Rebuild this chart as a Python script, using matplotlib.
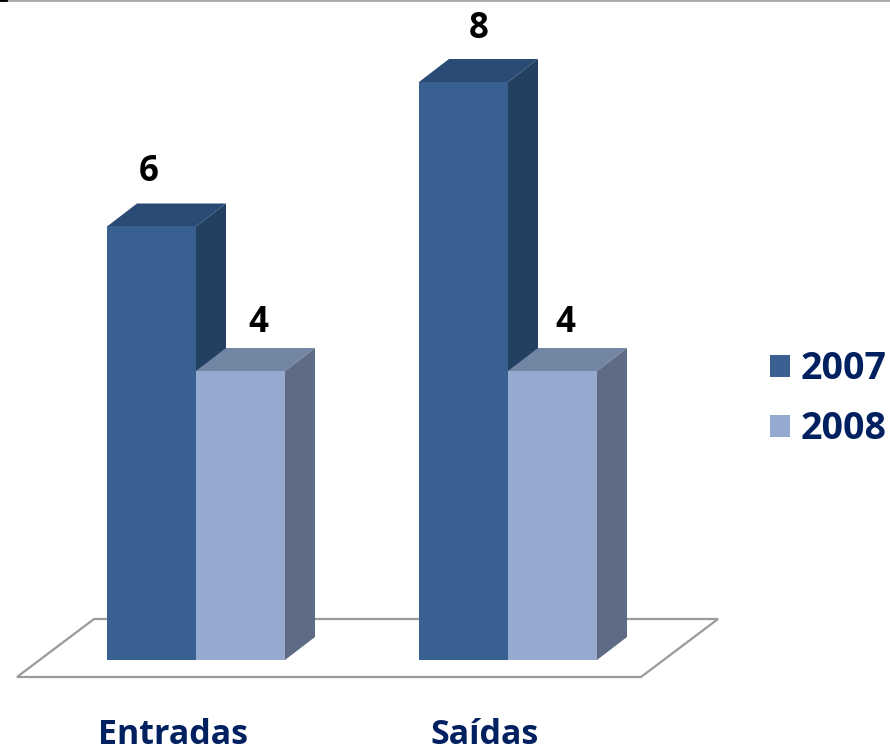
import matplotlib
matplotlib.use('Agg')
import matplotlib.pyplot as plt
from matplotlib.patches import Polygon

plt.rcParams['font.family'] = ['Open Sans', 'DejaVu Sans']

categories = ['Entradas', 'Saídas']
series_names = ['2007', '2008']
values_2007 = [6, 8]
values_2008 = [4, 4]

navy = '#002060'
front = ['#386192', '#95A9D1']
top = ['#2A4B74', '#7285A3']
side = ['#233F61', '#5E6B85']

# one category step is 312 px, one unit of value is 72.25 px
px_x = 1 / 312
px_y = 1 / 72.25
w = 89 * px_x
dx = 30 * px_x
dy = 23 * px_y

# the labels are not placed evenly in the original, (x, y) nudges in px
nudge = [[(-3, 36), (15, 35)], [(18, 30), (13, 30)]]

fig = plt.figure(figsize=(8.9, 7.48), dpi=100)
ax = fig.add_axes([0, 0, 1, 1])
ax.set_xlim(-196 * px_x, (890 - 196) * px_x)
ax.set_ylim(-(748 - 660) * px_y, 660 * px_y)
ax.axis('off')

# floor
floor = [(-179 * px_x, -17 * px_y), (-102 * px_x, 41 * px_y),
         (522 * px_x, 41 * px_y), (445 * px_x, -17 * px_y)]
ax.add_patch(Polygon(floor, closed=True, fc='white', ec='#9a9a9a', lw=1.6, zorder=1))

# side and top faces, the taller series goes behind its neighbour
for i, vals in enumerate([values_2007, values_2008]):
    off = -w if i == 0 else 0
    for c, v in enumerate(vals):
        x0 = c + off
        x1 = x0 + w
        ax.add_patch(Polygon([(x1, 0), (x1 + dx, dy), (x1 + dx, v + dy), (x1, v)],
                             fc=side[i], ec='none', zorder=2 + i))
        ax.add_patch(Polygon([(x0, v), (x0 + dx, v + dy), (x1 + dx, v + dy), (x1, v)],
                             fc=top[i], ec='none', zorder=2 + i))
    ax.bar([c + off for c in range(len(vals))], vals, width=w, align='edge',
           color=front[i], label=series_names[i], zorder=2.5 + i)
    for c, v in enumerate(vals):
        nx, ny = nudge[i][c]
        ax.text(c + off + w / 2 + nx * px_x, v + ny * px_y, str(v), ha='center', va='bottom',
                fontsize=25, fontweight='bold', color='black', zorder=6)

for c, name in enumerate(categories):
    ax.text(c - 23 * px_x, -75 * px_y, name, ha='center', va='center',
            fontsize=24.5, fontweight='bold', color=navy)

ax.legend(loc='center left', bbox_to_anchor=(770 / 890, 1 - 399 / 748), frameon=False,
          prop={'size': 27, 'weight': 'bold'}, labelcolor=navy,
          handlelength=0.53, handleheight=0.53, handletextpad=0.29, labelspacing=0.59,
          borderpad=0, borderaxespad=0)

# edge of the slide at the very top, black at the corner
ax.axhline(660 * px_y, color='#aaaaaa', lw=2, clip_on=True)
ax.axhline(660 * px_y, xmax=6 / 890, color='black', lw=2, clip_on=True)

fig.savefig('out.png', dpi=100)
